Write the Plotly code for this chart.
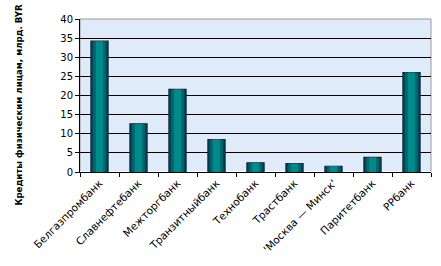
import plotly.graph_objects as go

banks = ["Белгазпромбанк", "Славнефтебанк", "Межторгбанк", "Транзитныйбанк",
         "Технобанк", "Трастбанк", "'Москва — Минск'", "Паритетбанк", "РРбанк"]
loans = [34.2, 12.6, 21.6, 8.5, 2.4, 2.2, 1.5, 3.8, 26.0]
y_ticks = [0, 5, 10, 15, 20, 25, 30, 35, 40]

fig = go.Figure()
# simulated cylinder-like shading: layered bars from the same data
for w, col, line in [(0.44, "#0b4458", dict(color="#062c3c", width=1.2)),
                     (0.32, "#006a72", dict(width=0)),
                     (0.18, "#008a8a", dict(width=0))]:
    fig.add_trace(go.Bar(x=banks, y=loans, width=w,
                         marker=dict(color=col, line=line), hoverinfo="skip"))
fig.update_layout(
    width=441, height=266,
    margin=dict(l=80, r=10, t=19, b=94),
    paper_bgcolor="white", plot_bgcolor="#dfebf8",
    showlegend=False, barmode="overlay",
    font=dict(family="DejaVu Sans, Arial", size=10, color="black"),
)
fig.update_xaxes(
    tickangle=-45, tickfont=dict(size=10.5),
    showline=True, linecolor="black", linewidth=1,
    ticks="outside", tickson="boundaries", ticklen=4, tickcolor="black",
    mirror=False, showgrid=False,
)
fig.update_yaxes(
    range=[0, 40], tickvals=y_ticks, tickfont=dict(size=10),
    showline=True, linecolor="black", linewidth=1,
    ticks="outside", ticklen=4, tickcolor="black",
    showgrid=True, gridcolor="black", gridwidth=1,
)
fig.add_annotation(
    text="<b>Кредиты физическим лицам, млрд. BYR</b>",
    xref="paper", yref="paper", x=-0.174, y=0.44, textangle=-90,
    showarrow=False, xanchor="center", yanchor="middle",
    font=dict(size=8.6, family="DejaVu Sans", color="black"),
)
fig.add_shape(type="rect", xref="paper", yref="paper", x0=0, y0=0, x1=1, y1=1,
              line=dict(color="#999999", width=1), layer="below")
fig.write_html("out.html")
